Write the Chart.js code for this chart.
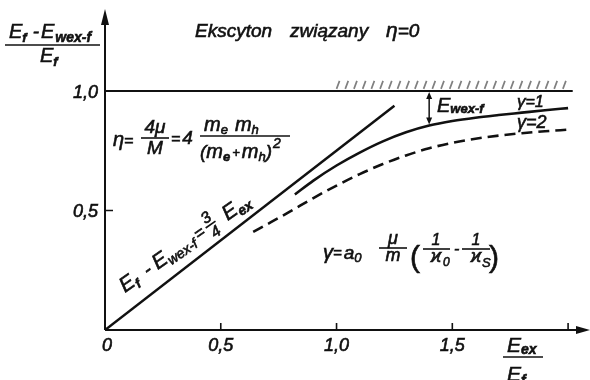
<!DOCTYPE html>
<html>
<head>
<meta charset="utf-8">
<script src="https://cdn.jsdelivr.net/npm/chart.js@4"></script>
<style>
html, body { margin: 0; padding: 0; background: #fff; }
#wrap { width: 590px; height: 380px; }
</style>
</head>
<body>
<div id="wrap"><canvas id="chart"></canvas></div>
<script>
// x: E_ex / E_f,  y: (E_f - E_wex-f) / E_f
var lineX = [0, 1.25];
var lineY = [0, 0.9375];          // E_f - E_wex-f = 3/4 E_ex

var gamma1X = [0.82, 0.9, 1.0, 1.1, 1.2, 1.3, 1.4, 1.5, 1.6, 1.7, 1.8, 1.9, 2.0];
var gamma1Y = [0.567, 0.625, 0.688, 0.742, 0.789, 0.827, 0.855, 0.874, 0.888, 0.899, 0.909, 0.919, 0.928];

var gamma2X = [0.64, 0.7, 0.8, 0.9, 1.0, 1.1, 1.2, 1.3, 1.4, 1.5, 1.6, 1.7, 1.8, 1.9, 2.0];
var gamma2Y = [0.41, 0.442, 0.496, 0.552, 0.604, 0.652, 0.694, 0.73, 0.76, 0.783, 0.80, 0.813, 0.823, 0.831, 0.838];

var limitX = [0, 2.02];
var limitY = [1, 1];

var xTicks = [0, 0.5, 1.0, 1.5, 2.0];
var xTickLabels = ["0", "0,5", "1,0", "1,5", ""];
var yTicks = [0.5, 1.0];
var yTickLabels = ["0,5", "1,0"];

var hatchFrom = 1.0, hatchTo = 1.98;
var gapAt = 1.4;   // where the E_wex-f arrow is drawn

var INK = "#111";
var FACE = '"Liberation Sans", Arial, sans-serif';

function pts(xs, ys) {
    return xs.map(function (x, i) { return { x: x, y: ys[i] }; });
}

function font(size, bold) {
    return "italic " + (bold ? "bold " : "") + size + "px " + FACE;
}

// lettering is a bit heavier than the plain font
function put(ctx, t, x, y) {
    ctx.fillText(t, x, y);
    ctx.lineWidth = 0.6;
    ctx.strokeText(t, x, y);
}

// parts: [text, size, dy, bold, extraGap]
function rich(ctx, x, y, parts) {
    parts.forEach(function (p) {
        ctx.font = font(p[1], p[3]);
        put(ctx, p[0], x, y + (p[2] || 0));
        x += ctx.measureText(p[0]).width + (p[4] || 0);
    });
    return x;
}

function frac(ctx, cx, barY, x1, x2, top, bottom) {
    ctx.lineWidth = 1.6;
    ctx.beginPath();
    ctx.moveTo(x1, barY);
    ctx.lineTo(x2, barY);
    ctx.stroke();
    var w;
    ctx.font = font(top[1], top[3]);
    w = ctx.measureText(top[0]).width;
    put(ctx, top[0], cx - w / 2, barY - top[2]);
    if (bottom) {
        ctx.font = font(bottom[1], bottom[3]);
        w = ctx.measureText(bottom[0]).width;
        put(ctx, bottom[0], cx - w / 2, barY + bottom[2]);
    }
}

var drawing = {
    id: "drawing",
    beforeDatasetsDraw: function (chart) {
        var ctx = chart.ctx, xs = chart.scales.x, ys = chart.scales.y, ca = chart.chartArea;
        var x0 = xs.getPixelForValue(0), y0 = ys.getPixelForValue(0);
        ctx.save();
        ctx.strokeStyle = INK;
        ctx.fillStyle = INK;
        ctx.lineWidth = 2;

        // axes with arrowheads
        ctx.beginPath();
        ctx.moveTo(x0, y0); ctx.lineTo(x0, ca.top + 10);
        ctx.moveTo(x0, y0); ctx.lineTo(ca.right - 8, y0);
        ctx.stroke();
        ctx.beginPath();
        ctx.moveTo(x0, ca.top - 3); ctx.lineTo(x0 - 4, ca.top + 13); ctx.lineTo(x0 + 4, ca.top + 13); ctx.closePath();
        ctx.moveTo(ca.right + 2, y0); ctx.lineTo(ca.right - 12, y0 - 4); ctx.lineTo(ca.right - 12, y0 + 4); ctx.closePath();
        ctx.fill();

        // tick marks
        ctx.lineWidth = 1.6;
        ctx.beginPath();
        xTicks.forEach(function (v) {
            if (v === 0) return;
            var px = xs.getPixelForValue(v);
            ctx.moveTo(px, y0); ctx.lineTo(px, y0 - 7);
        });
        yTicks.forEach(function (v) {
            if (v === 1) return;
            var py = ys.getPixelForValue(v);
            ctx.moveTo(x0, py); ctx.lineTo(x0 + 8, py);
        });
        ctx.stroke();

        // hatching above the limit line
        ctx.strokeStyle = "#808080";
        ctx.lineWidth = 1.7;
        var yl = ys.getPixelForValue(1);
        ctx.beginPath();
        for (var v = hatchFrom; v <= hatchTo; v += 0.0376) {
            var px = xs.getPixelForValue(v);
            ctx.moveTo(px, yl - 2);
            ctx.lineTo(px + 3, yl - 10);
        }
        ctx.stroke();
        ctx.restore();
    },
    afterDraw: function (chart) {
        var ctx = chart.ctx, xs = chart.scales.x, ys = chart.scales.y;
        var x0 = xs.getPixelForValue(0), y0 = ys.getPixelForValue(0);
        ctx.save();
        ctx.fillStyle = INK;
        ctx.strokeStyle = INK;
        ctx.textBaseline = "alphabetic";

        // tick labels
        xTicks.forEach(function (v, i) {
            var t = xTickLabels[i];
            if (!t) return;
            ctx.font = font(18);
            var w = ctx.measureText(t).width;
            put(ctx, t, xs.getPixelForValue(v) - w / 2 + (v === 0 ? 2 : 0), y0 + 21);
        });
        yTicks.forEach(function (v, i) {
            var t = yTickLabels[i];
            ctx.font = font(18);
            var w = ctx.measureText(t).width;
            put(ctx, t, x0 - 7 - w, ys.getPixelForValue(v) + 7);
        });

        // title
        ctx.font = font(19);
        put(ctx, "Ekscyton", 195, 37);
        ctx.font = font(19);
        put(ctx, "związany", 290, 37);
        rich(ctx, 386, 37, [["η", 21], ["=0", 19]]);

        // y axis title
        rich(ctx, 9, 38, [["E", 20], ["f", 13, 4, true, 6], ["-", 19, 0, false, 2], ["E", 20, 0, false, 1], ["wex-f", 14, 4, true]]);
        ctx.lineWidth = 1.6;
        ctx.beginPath(); ctx.moveTo(5, 45); ctx.lineTo(100, 45); ctx.stroke();
        rich(ctx, 40, 62, [["E", 20], ["f", 13, 4, true]]);

        // x axis title
        rich(ctx, 507, 352, [["E", 21], ["ex", 14, 2, true]]);
        ctx.lineWidth = 1.6;
        ctx.beginPath(); ctx.moveTo(503, 357); ctx.lineTo(543, 357); ctx.stroke();
        rich(ctx, 507, 381, [["E", 21], ["f", 14, 4, true]]);

        // E_wex-f gap between the limit and the gamma = 1 curve
        var ax = xs.getPixelForValue(gapAt);
        var aTop = ys.getPixelForValue(1);
        var aBot = ys.getPixelForValue(gamma1Y[gamma1X.indexOf(gapAt)]);
        ctx.lineWidth = 1.5;
        ctx.beginPath(); ctx.moveTo(ax, aTop + 4); ctx.lineTo(ax, aBot - 4); ctx.stroke();
        ctx.beginPath();
        ctx.moveTo(ax, aTop + 1); ctx.lineTo(ax - 3, aTop + 8); ctx.lineTo(ax + 3, aTop + 8); ctx.closePath();
        ctx.moveTo(ax, aBot - 1); ctx.lineTo(ax - 3, aBot - 8); ctx.lineTo(ax + 3, aBot - 8); ctx.closePath();
        ctx.fill();
        rich(ctx, 437, 112, [["E", 20], ["wex-f", 13, 1, true]]);

        // curve labels
        rich(ctx, 517, 107, [["γ", 17], ["=1", 16]]);
        rich(ctx, 517, 128, [["γ", 18], ["=2", 18]]);

        // eta definition
        rich(ctx, 113, 146, [["η", 20], ["=", 16]]);
        frac(ctx, 155, 138, 141, 169, ["4μ", 19, 5], ["M", 19, 16]);
        rich(ctx, 171, 144, [["=", 16, 0, false, 2], ["4", 19]]);
        ctx.lineWidth = 1.6;
        ctx.beginPath(); ctx.moveTo(200, 136); ctx.lineTo(290, 136); ctx.stroke();
        rich(ctx, 204, 131, [["m", 20], ["e", 13, 3, false, 7], ["m", 20], ["h", 13, 3]]);
        rich(ctx, 200, 158, [["(", 19], ["m", 20], ["e", 13, 3, true, 2], ["+", 13, -1, false, 2], ["m", 20], ["h", 13, 3], [")", 19, 0, false, 1], ["2", 14, -10]]);

        // gamma definition
        rich(ctx, 323, 259, [["γ", 20], ["=", 15, -1, false, 2], ["a", 19], ["0", 13, 3]]);
        frac(ctx, 393, 248, 379, 407, ["μ", 18, 4], ["m", 18, 13]);
        ctx.font = "30px " + FACE;
        put(ctx, "(", 410, 267);
        frac(ctx, 436, 249, 423, 450, ["1", 16, 4], ["ϰ", 18, 13]);
        ctx.font = font(12); put(ctx, "0", 443, 266);
        ctx.font = font(16); put(ctx, "-", 454, 254);
        frac(ctx, 476, 249, 462, 490, ["1", 16, 4], ["ϰ", 18, 13]);
        ctx.font = font(13); put(ctx, "S", 482, 267);
        ctx.font = "30px " + FACE;
        put(ctx, ")", 489, 267);

        // label along the 3/4 line
        ctx.translate(125, 293);
        ctx.rotate(-35 * Math.PI / 180);
        var tx = rich(ctx, 0, 0, [["E", 21], ["f", 13, 4, true, 10], ["-", 20, 0, false, 5], ["E", 21], ["wex-f", 14, 4, false, 3], ["=", 17, -1, false, 3]]);
        frac(ctx, tx + 6, -7, tx, tx + 12, ["3", 16, 3], ["4", 16, 14]);
        rich(ctx, tx + 22, 0, [["E", 21], ["ex", 14, 4, true]]);
        ctx.restore();
    }
};

var ctx = document.getElementById("chart").getContext("2d");

new Chart(ctx, {
    type: "scatter",
    data: {
        datasets: [{
            data: pts(limitX, limitY),
            showLine: true,
            borderColor: INK,
            borderWidth: 2,
            pointRadius: 0
        }, {
            data: pts(lineX, lineY),
            showLine: true,
            borderColor: INK,
            borderWidth: 2.5,
            pointRadius: 0
        }, {
            data: pts(gamma1X, gamma1Y),
            showLine: true,
            cubicInterpolationMode: "monotone",
            borderColor: INK,
            borderWidth: 2.6,
            pointRadius: 0
        }, {
            data: pts(gamma2X, gamma2Y),
            showLine: true,
            cubicInterpolationMode: "monotone",
            borderColor: INK,
            borderWidth: 2.6,
            borderDash: [11, 6],
            pointRadius: 0
        }]
    },
    options: {
        responsive: true,
        maintainAspectRatio: false,
        animation: false,
        layout: {
            padding: { left: 105, top: 12, right: 2, bottom: 50 }
        },
        plugins: {
            legend: { display: false },
            tooltip: { enabled: false }
        },
        scales: {
            x: { type: "linear", min: 0, max: 2.086, display: false },
            y: { type: "linear", min: 0, max: 1.33, display: false }
        }
    },
    plugins: [drawing]
});
</script>
</body>
</html>
